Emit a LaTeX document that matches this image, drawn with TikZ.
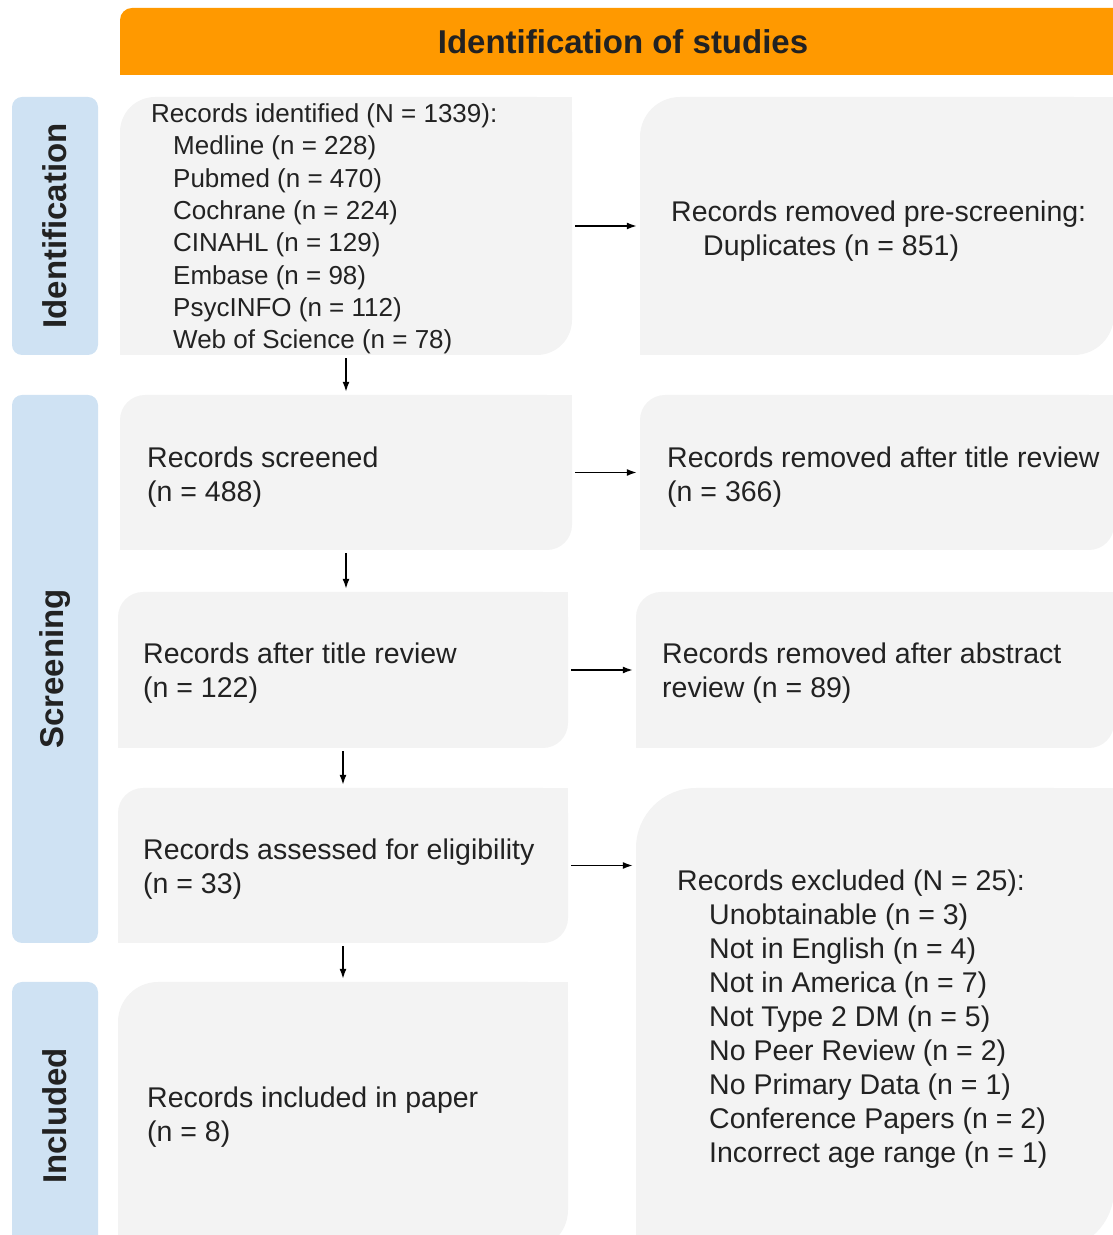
\documentclass[tikz,border=0pt]{standalone}
\usepackage{fontspec}
\setmainfont{Liberation Sans}
\usepackage{tikz}
\usetikzlibrary{calc,arrows,arrows.meta,backgrounds}
\definecolor{boxgray}{HTML}{F3F3F3}
\definecolor{sideblue}{HTML}{CFE2F3}
\definecolor{headorange}{HTML}{FF9900}
\definecolor{inkblack}{HTML}{222222}
\newcommand{\diagcorners}[2]{%
  \fill[boxgray] (#1.north east) rectangle ++(-#2,-#2);
  \fill[boxgray] (#1.south west) rectangle ++(#2,#2);}

\begin{document}
\begin{tikzpicture}[x=1pt,y=1pt,
    gbox/.style={fill=boxgray,rounded corners=#1,inner sep=0pt},
    side/.style={fill=sideblue,rounded corners=10pt,rotate=90,minimum height=86pt,inner sep=0pt,
      text=inkblack,font=\fontsize{33}{38}\selectfont\bfseries},
    txt/.style={anchor=west,align=left,inner sep=0pt,text=inkblack,font=\fontsize{28.5}{34}\selectfont},
    arr/.style={-{Latex[length=10pt,width=7pt]},line width=1.5pt,shorten <=3pt,shorten >=3pt}]
              \useasboundingbox (0,0) rectangle (1112,1235);
              \node[fill=headorange,rounded corners=12pt,minimum width=1006pt,minimum height=67pt,inner sep=0pt,
                text=inkblack,font=\fontsize{33}{38}\selectfont\bfseries] (head) at (623,1193.5) {Identification of studies};
              \node[side,minimum width=258pt] (idside) at (55,1009) {Identification};
              \node[side,minimum width=548pt] (scrside) at (55,566) {Screening};
              \node[side,minimum width=268pt] (incside) at (55,119) {Included};
              \node[gbox=35pt,minimum width=452pt,minimum height=258pt] (ident) at (346,1009) {};
              \node[gbox=40pt,minimum width=474pt,minimum height=258pt] (dup) at (877,1009) {};
              \node[gbox=25pt,minimum width=452pt,minimum height=155pt] (screen) at (346,762.5) {};
              \node[gbox=25pt,minimum width=474pt,minimum height=155pt] (rtitle) at (877,762.5) {};
              \node[gbox=25pt,minimum width=450pt,minimum height=156pt] (title) at (343,565) {};
              \node[gbox=25pt,minimum width=478pt,minimum height=156pt] (rabs) at (875,565) {};
              \node[gbox=25pt,minimum width=450pt,minimum height=155pt] (assess) at (343,369.5) {};
              \node[gbox=60pt,minimum width=478pt,minimum height=462pt] (excl) at (875,216) {};
              \node[gbox=40pt,minimum width=450pt,minimum height=268pt] (incl) at (343,119) {};
              \begin{scope}[on background layer]
                \fill[headorange] (head.south west) rectangle ++(12,12);
                \diagcorners{ident}{35}
                \diagcorners{dup}{40}
                \diagcorners{screen}{25}
                \diagcorners{rtitle}{25}
                \diagcorners{title}{25}
                \diagcorners{rabs}{25}
                \diagcorners{assess}{25}
                \diagcorners{excl}{60}
                \diagcorners{incl}{40}
              \end{scope}
              \node[txt,font=\fontsize{26}{32.3}\selectfont] (identtxt) at (151,1006) {Records identified (N = 1339):\\
                \hspace*{22pt}Medline (n = 228)\\ \hspace*{22pt}Pubmed (n = 470)\\ \hspace*{22pt}Cochrane (n = 224)\\
                \hspace*{22pt}CINAHL (n = 129)\\ \hspace*{22pt}Embase (n = 98)\\ \hspace*{22pt}PsycINFO (n = 112)\\
                \hspace*{22pt}Web of Science (n = 78)};
              \node[txt] (duptxt) at (671,1004) {Records removed pre-screening:\\ \hspace*{32pt}Duplicates (n = 851)};
              \node[txt] (screentxt) at (147,758) {Records screened\\(n = 488)};
              \node[txt] (rtitletxt) at (667,758) {Records removed after title review\\(n = 366)};
              \node[txt] (titletxt) at (143,562) {Records after title review\\(n = 122)};
              \node[txt] (rabstxt) at (662,562) {Records removed after abstract\\review (n = 89)};
              \node[txt] (assesstxt) at (143,366) {Records assessed for eligibility\\(n = 33)};
              \node[txt] (excltxt) at (677,216) {Records excluded (N = 25):\\
                \hspace*{32pt}Unobtainable (n = 3)\\ \hspace*{32pt}Not in English (n = 4)\\ \hspace*{32pt}Not in America (n = 7)\\
                \hspace*{32pt}Not Type 2 DM (n = 5)\\ \hspace*{32pt}No Peer Review (n = 2)\\ \hspace*{32pt}No Primary Data (n = 1)\\
                \hspace*{32pt}Conference Papers (n = 2)\\ \hspace*{32pt}Incorrect age range (n = 1)};
              \node[txt] (incltxt) at (147,118) {Records included in paper\\(n = 8)};
              \draw[arr] (ident) -- (dup);
              \draw[arr] (screen) -- (rtitle);
              \draw[arr] (title) -- (rabs);
              \draw[arr] (assess.east) -- (assess.east -| excl.west);
              \draw[arr] (ident.south) -- (screen.north);
              \draw[arr] (screen.south) -- (screen.south |- title.north);
              \draw[arr] (title.south) -- (assess.north);
              \draw[arr] (assess.south) -- (incl.north);
            \end{tikzpicture}
\end{document}
